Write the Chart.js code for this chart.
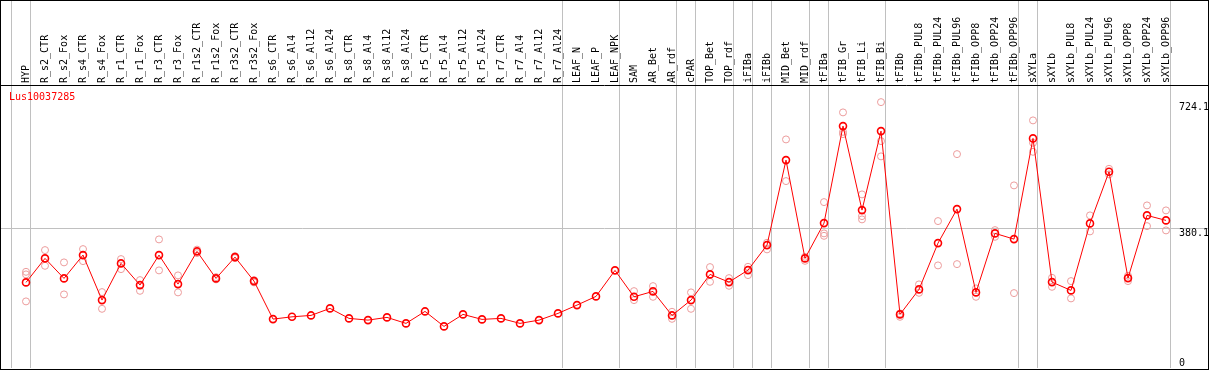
<!DOCTYPE html>
<html>
<head>
<meta charset="utf-8">
<script src="https://cdn.jsdelivr.net/npm/chart.js@4/dist/chart.umd.min.js"></script>
<style>
  html, body { margin: 0; padding: 0; background: #fff; }
  canvas { display: block; }
</style>
</head>
<body>
<canvas id="chart" width="1209" height="370"></canvas>
<script>
const probe = 'Lus10037285';

const categories = [
  'HYP', 'R_s2_CTR', 'R_s2_Fox', 'R_s4_CTR', 'R_s4_Fox', 'R_r1_CTR', 'R_r1_Fox', 'R_r3_CTR', 'R_r3_Fox',
  'R_r1s2_CTR', 'R_r1s2_Fox', 'R_r3s2_CTR', 'R_r3s2_Fox', 'R_s6_CTR', 'R_s6_Al4', 'R_s6_Al12', 'R_s6_Al24',
  'R_s8_CTR', 'R_s8_Al4', 'R_s8_Al12', 'R_s8_Al24', 'R_r5_CTR', 'R_r5_Al4', 'R_r5_Al12', 'R_r5_Al24',
  'R_r7_CTR', 'R_r7_Al4', 'R_r7_Al12', 'R_r7_Al24', 'LEAF_N', 'LEAF_P', 'LEAF_NPK', 'SAM', 'AR_Bet', 'AR_rdf',
  'cPAR', 'TOP_Bet', 'TOP_rdf', 'iFIBa', 'iFIBb', 'MID_Bet', 'MID_rdf', 'tFIBa', 'tFIB_Gr', 'tFIB_Li', 'tFIB_Bi',
  'tFIBb', 'tFIBb_PUL8', 'tFIBb_PUL24', 'tFIBb_PUL96', 'tFIBb_OPP8', 'tFIBb_OPP24', 'tFIBb_OPP96',
  'sXYLa', 'sXYLb', 'sXYLb_PUL8', 'sXYLb_PUL24', 'sXYLb_PUL96', 'sXYLb_OPP8', 'sXYLb_OPP24', 'sXYLb_OPP96'
];

// last sample of each group (0 = left edge)
const groupEnds = [0, 1, 29, 32, 35, 36, 38, 39, 40, 42, 43, 46, 53, 54, 61];

const means = [
  233.1, 298.5, 244.0, 307.5, 184.9, 284.9, 225.8, 307.5, 228.5,
  317.5, 244.0, 302.0, 236.7, 133.2, 139.4, 143.2, 162.3,
  135.1, 130.4, 137.8, 121.5, 154.1, 113.3, 146.0, 132.4,
  135.1, 121.5, 130.4, 148.7, 171.3, 195.0, 265.8, 193.9, 208.6, 143.2,
  184.9, 254.9, 233.9, 266.6, 334.7, 566.2, 298.5, 394.6, 658.8, 430.0, 645.2,
  146.0, 214.1, 340.1, 432.7, 205.9, 366.6, 351.0,
  625.3, 233.9, 211.3, 393.8, 534.3, 244.8, 415.6, 402.0
];

const rep1 = [
  262.0, 321.1, 287.6, 323.8, 206.7, 296.6, 239.4, 350.2, 252.2,
  322.4, 247.5, 304.7, 239.4, null, null, null, null,
  null, null, null, null, null, null, null, null,
  null, null, null, null, null, null, null, 209.4, 223.0, 153.1,
  205.9, 274.8, 244.8, 275.6, 341.0, 622.5, 302.8, 451.8, 696.1, 472.8, 724.1,
  148.7, 227.7, 400.1, 582.5, 216.8, 375.5, 497.3,
  674.3, 245.6, 236.7, 415.6, 542.5, 251.1, 442.8, 429.2
];

const rep2 = [
  254.9, 278.3, 200.4, 291.1, 161.2, 269.3, 210.2, 265.8, 205.9,
  312.9, 241.3, 299.3, 233.1, null, null, null, null,
  null, null, null, null, null, null, null, null,
  null, null, null, null, null, null, null, 184.9, 193.9, 134.0,
  161.2, 234.7, 223.9, 253.0, 323.0, 509.0, 291.9, 366.6, 643.2, 413.7, 617.9,
  139.4, 204.8, 279.4, 282.9, 193.9, 357.3, 204.0,
  613.3, 221.1, 189.5, 372.0, 527.2, 236.7, 386.4, 374.7
];

const rep3 = [
  181.4, null, null, null, null, null, null, null, null,
  null, null, null, null, null, null, null, null,
  null, null, null, null, null, null, null, null,
  null, null, null, null, null, null, null, null, null, null,
  null, null, null, null, null, null, null, 360.0, 637.0, 404.7, 576.3,
  null, null, null, null, null, null, null,
  588.8, null, null, null, null, null, null, null
];

const yTicks = [0, 380.1, 724.1];
const yGridAt = 380.1;
const yMax = 768;
const xMin = -0.3158;
const xMax = 63.2105;

const toPoints = arr => arr.map((v, i) => ({ x: i + 1, y: v }));

const repStyle = {
  type: 'scatter',
  showLine: false,
  pointRadius: 3.5,
  pointBorderWidth: 1,
  pointBorderColor: '#ec9c9c',
  pointBackgroundColor: 'rgba(0,0,0,0)',
  order: 2
};

const noPad = s => { s.paddingLeft = 0; s.paddingRight = 0; };

const framePlugin = {
  id: 'frame',
  afterDraw(chart) {
    const { ctx } = chart;
    const y = chart.scales.y;
    ctx.save();
    ctx.strokeStyle = '#000';
    ctx.lineWidth = 1;
    ctx.strokeRect(0.5, 0.5, chart.width - 1, chart.height - 1);
    ctx.beginPath();
    ctx.moveTo(0, 85.5);
    ctx.lineTo(chart.width, 85.5);
    ctx.stroke();
    ctx.font = '10px "DejaVu Sans Mono"';
    ctx.textAlign = 'left';
    ctx.textBaseline = 'alphabetic';
    ctx.fillStyle = '#000';
    yTicks.forEach(v => {
      const py = Math.min(y.getPixelForValue(v) + 7.5, chart.height - 4);
      ctx.fillText(String(v), 1179, py);
    });
    ctx.fillStyle = '#ff0000';
    ctx.fillText(probe, 9, 100);
    ctx.restore();
  }
};

new Chart(document.getElementById('chart').getContext('2d'), {
  type: 'scatter',
  data: {
    datasets: [
      {
        type: 'line',
        label: probe,
        data: toPoints(means),
        borderColor: '#ff0000',
        borderWidth: 1,
        tension: 0,
        pointRadius: 3.5,
        pointBorderWidth: 1.6,
        pointBorderColor: '#ff0000',
        pointBackgroundColor: 'rgba(0,0,0,0)',
        order: 1
      },
      { ...repStyle, label: 'rep1', data: toPoints(rep1) },
      { ...repStyle, label: 'rep2', data: toPoints(rep2) },
      { ...repStyle, label: 'rep3', data: toPoints(rep3) }
    ]
  },
  options: {
    responsive: false,
    animation: false,
    devicePixelRatio: 1,
    layout: { autoPadding: false, padding: { top: 1, left: 1, right: 1, bottom: 2 } },
    plugins: { legend: { display: false }, tooltip: { enabled: false } },
    scales: {
      x: {
        type: 'linear', position: 'top', min: xMin, max: xMax, weight: 0,
        afterBuildTicks: s => { s.ticks = groupEnds.map(g => ({ value: g + 0.237 })); },
        afterFit: s => { s.height = 0; noPad(s); },
        ticks: { display: false },
        border: { display: false },
        grid: { color: '#c0c0c0', lineWidth: 1, drawTicks: true, tickLength: 86, tickColor: '#c0c0c0' }
      },
      xLabels: {
        type: 'linear', position: 'top', min: xMin, max: xMax, weight: 1,
        afterBuildTicks: s => { s.ticks = categories.map((c, i) => ({ value: i + 1 })); },
        afterFit: s => { s.height = 85; noPad(s); },
        ticks: {
          autoSkip: false, minRotation: 90, maxRotation: 90, padding: 3, labelOffset: 12, color: '#000',
          font: { family: 'DejaVu Sans Mono', size: 10 },
          callback: (v, i) => categories[i]
        },
        border: { display: false },
        grid: { display: false, drawTicks: false }
      },
      y: {
        type: 'linear', position: 'left', min: 0, max: yMax,
        afterBuildTicks: s => { s.ticks = yTicks.map(v => ({ value: v })); },
        afterFit: s => { s.width = 0; },
        ticks: { display: false },
        border: { display: false },
        grid: {
          drawTicks: false,
          color: ctx => (ctx.tick && ctx.tick.value === yGridAt ? '#c0c0c0' : 'rgba(0,0,0,0)')
        }
      }
    }
  },
  plugins: [framePlugin]
});
</script>
</body>
</html>
